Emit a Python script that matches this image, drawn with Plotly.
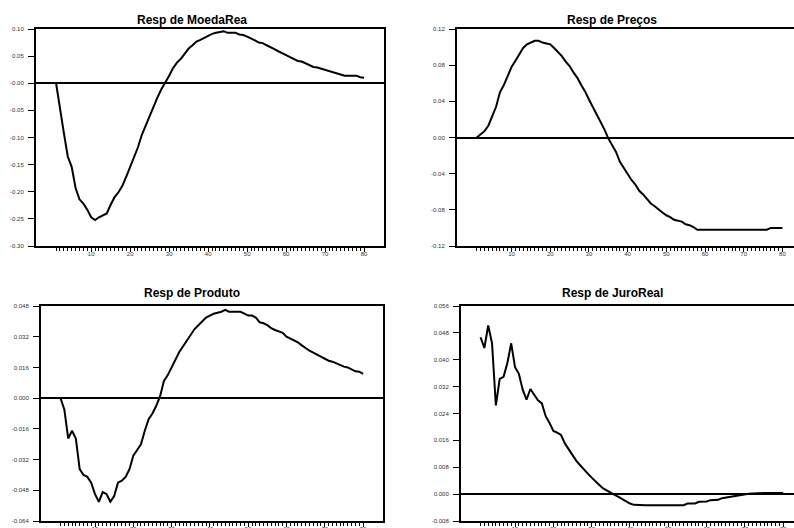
import plotly.graph_objects as go

periods = list(range(1, 81))

moeda_rea = [0.000, -0.050, -0.092, -0.135, -0.154, -0.193, -0.214, -0.222, -0.233, -0.247,
             -0.252, -0.247, -0.243, -0.240, -0.224, -0.210, -0.201, -0.189, -0.172, -0.154,
             -0.136, -0.118, -0.095, -0.077, -0.061, -0.044, -0.026, -0.011, 0.001, 0.014,
             0.028, 0.038, 0.045, 0.054, 0.064, 0.070, 0.077, 0.080, 0.084, 0.088,
             0.091, 0.093, 0.095, 0.096, 0.093, 0.093, 0.093, 0.090, 0.089, 0.086,
             0.083, 0.079, 0.075, 0.074, 0.070, 0.067, 0.063, 0.059, 0.056, 0.052,
             0.048, 0.045, 0.041, 0.040, 0.037, 0.034, 0.030, 0.029, 0.027, 0.025,
             0.022, 0.021, 0.019, 0.016, 0.014, 0.014, 0.014, 0.014, 0.011, 0.010]

precos = [0.000, 0.003, 0.007, 0.013, 0.023, 0.034, 0.050, 0.058, 0.068, 0.078,
          0.085, 0.092, 0.099, 0.103, 0.105, 0.107, 0.107, 0.105, 0.104, 0.103,
          0.099, 0.095, 0.090, 0.084, 0.079, 0.072, 0.066, 0.058, 0.051, 0.042,
          0.034, 0.025, 0.018, 0.009, -0.001, -0.009, -0.016, -0.027, -0.034, -0.041,
          -0.047, -0.052, -0.059, -0.063, -0.068, -0.073, -0.076, -0.080, -0.083, -0.086,
          -0.088, -0.091, -0.092, -0.093, -0.096, -0.097, -0.099, -0.102, -0.102, -0.102,
          -0.102, -0.102, -0.102, -0.102, -0.102, -0.102, -0.102, -0.102, -0.102, -0.102,
          -0.102, -0.102, -0.102, -0.102, -0.102, -0.102, -0.100, -0.100, -0.100, -0.100]

produto = [0.000, -0.006, -0.021, -0.017, -0.021, -0.037, -0.040, -0.041, -0.044, -0.050,
           -0.054, -0.049, -0.050, -0.054, -0.051, -0.044, -0.043, -0.041, -0.037, -0.030,
           -0.027, -0.024, -0.017, -0.011, -0.008, -0.004, 0.001, 0.009, 0.012, 0.016,
           0.020, 0.024, 0.027, 0.030, 0.033, 0.036, 0.038, 0.040, 0.042, 0.043,
           0.044, 0.0445, 0.045, 0.046, 0.045, 0.045, 0.045, 0.045, 0.044, 0.043,
           0.043, 0.042, 0.0395, 0.039, 0.038, 0.0365, 0.0355, 0.0347, 0.034, 0.032,
           0.031, 0.030, 0.029, 0.0275, 0.026, 0.0247, 0.0237, 0.0227, 0.0216, 0.0205,
           0.0195, 0.019, 0.018, 0.017, 0.0164, 0.016, 0.015, 0.014, 0.0138, 0.0126]

juro_real = [0.0467, 0.0435, 0.0502, 0.0449, 0.0264, 0.0343, 0.0349, 0.0390, 0.0449, 0.0378,
             0.0358, 0.0311, 0.0281, 0.0313, 0.0296, 0.0279, 0.0270, 0.0232, 0.0212, 0.0188,
             0.0183, 0.0176, 0.0151, 0.0133, 0.0114, 0.0099, 0.0086, 0.0072, 0.0061, 0.0049,
             0.0037, 0.0027, 0.0017, 0.0010, 0.0005, -0.0002, -0.0008, -0.0015, -0.0022, -0.0028,
             -0.0032, -0.0033, -0.0033, -0.0033, -0.0033, -0.0033, -0.0033, -0.0033, -0.0033, -0.0033,
             -0.0033, -0.0033, -0.0033, -0.0033, -0.0028, -0.0028, -0.0028, -0.0023, -0.0022, -0.0022,
             -0.0018, -0.0017, -0.0017, -0.0012, -0.0010, -0.0009, -0.0005, -0.0003, -0.0002, -0.0001,
             0.0001, 0.0002, 0.0003, 0.0003, 0.0003, 0.0003, 0.0003, 0.0003, 0.0003, 0.0003]

titles = ["Resp de MoedaRea", "Resp de Preços", "Resp de Produto", "Resp de JuroReal"]

y_ticks = [
    ([0.10, 0.05, 0.0, -0.05, -0.10, -0.15, -0.20, -0.25, -0.30],
     ["0.10", "0.05", "-0.00", "-0.05", "-0.10", "-0.15", "-0.20", "-0.25", "-0.30"]),
    ([0.12, 0.08, 0.04, 0.0, -0.04, -0.08, -0.12],
     ["0.12", "0.08", "0.04", "0.00", "-0.04", "-0.08", "-0.12"]),
    ([0.048, 0.032, 0.016, 0.0, -0.016, -0.032, -0.048, -0.064],
     ["0.048", "0.032", "0.016", "0.000", "-0.016", "-0.032", "-0.048", "-0.064"]),
    ([0.056, 0.048, 0.040, 0.032, 0.024, 0.016, 0.008, 0.0, -0.008],
     ["0.056", "0.048", "0.040", "0.032", "0.024", "0.016", "0.008", "0.000", "-0.008"]),
]
y_ranges = [[-0.30, 0.10], [-0.12, 0.12], [-0.064, 0.048], [-0.008, 0.056]]
x_major = [10, 20, 30, 40, 50, 60, 70, 80]
x_labels = ["10", "20", "30", "40", "50", "60", "70", "80"]

series = [moeda_rea, precos, produto, juro_real]

W, H = 794, 528
# pixel boxes (left, right, top, bottom)
boxes = [(36, 384, 29, 246), (457, 794, 29, 246), (41, 383, 306, 521), (461, 794, 306, 521)]
x_ranges = [[-4.15, 85.1], [-4.1, 83.0], [-4.1, 85.2], [-4.1, 82.8]]
title_pos = [(192, 19.5), (612, 19.5), (192, 293), (612, 293)]

fig = go.Figure()
font_fam = "Liberation Sans, Arial, sans-serif"

for i in range(4):
    n = "" if i == 0 else str(i + 1)
    fig.add_trace(go.Scatter(x=periods, y=series[i], mode="lines",
                             line=dict(color="black", width=2),
                             xaxis="x" + n, yaxis="y" + n, showlegend=False,
                             hoverinfo="skip"))
    l, r, t, b = boxes[i]
    right_panel = i in (1, 3)
    fig.update_layout(**{
        "xaxis" + n: dict(
            domain=[l / W, r / W], range=x_ranges[i], anchor="y" + n,
            automargin=False,
            showgrid=False, zeroline=False, showline=True, linecolor="black",
            linewidth=2, mirror=True,
            tickmode="array", tickvals=x_major, ticktext=x_labels,
            ticks="outside", ticklen=4, tickwidth=1, tickcolor="black",
            tickfont=dict(family=font_fam, size=6, color="#333"),
            ticklabelstandoff=-3,
            minor=dict(tickmode="array", tickvals=periods, ticks="outside",
                       ticklen=3, tickwidth=1, tickcolor="black", showgrid=False),
            fixedrange=True,
        ),
        "yaxis" + n: dict(
            domain=[1 - b / H, 1 - t / H], range=y_ranges[i], anchor="x" + n,
            automargin=False,
            showgrid=False, zeroline=True, zerolinecolor="black", zerolinewidth=2,
            showline=True, linecolor="black", linewidth=2,
            mirror=(not right_panel),
            tickmode="array", tickvals=y_ticks[i][0], ticktext=y_ticks[i][1],
            ticks="outside", ticklen=6, tickwidth=1, tickcolor="black",
            tickfont=dict(family=font_fam, size=6, color="#333"),
            ticklabelstandoff=3,
            fixedrange=True,
        ),
    })
    tx, ty = title_pos[i]
    fig.add_annotation(text="<b>" + titles[i] + "</b>", xref="paper", yref="paper",
                       x=tx / W, y=1 - ty / H, xanchor="center", yanchor="middle",
                       showarrow=False, font=dict(family=font_fam, size=12, color="black"))

fig.update_layout(width=W, height=H, margin=dict(l=0, r=0, t=0, b=0, autoexpand=False),
                  paper_bgcolor="white", plot_bgcolor="white", showlegend=False)

fig.write_html("out.html")
